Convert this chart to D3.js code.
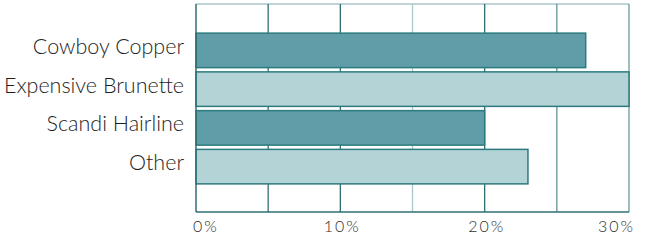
<!DOCTYPE html>
<html>
<head>
<meta charset="utf-8">
<script src="https://cdn.jsdelivr.net/npm/d3@7"></script>
<style>
  body { margin: 0; background: #fff; }
  text { font-family: Lato, "DejaVu Sans", sans-serif; font-weight: 300; }
</style>
</head>
<body>
<div id="chart"></div>
<script>
const categories = ["Cowboy Copper", "Expensive Brunette", "Scandi Hairline", "Other"];
const shares = [27, 30, 20, 23];
const gridTicks = [5, 10, 15, 20, 25];
const tickLabels = [0, 10, 20, 30];

var w = 650;
var h = 245;
var margin = { top: 4, right: 21, bottom: 33, left: 196 };

var svg = d3.select("#chart").append("svg")
  .attr("width", w)
  .attr("height", h);

var x = d3.scaleLinear()
  .domain([0, 30])
  .range([margin.left, w - margin.right]);

var y = d3.scaleBand()
  .domain(categories)
  .range([31, 186])
  .paddingInner(0.11)
  .paddingOuter(0.055);

var bottom = h - margin.bottom;

// frame
svg.append("line")
  .attr("x1", x(0)).attr("x2", x(30))
  .attr("y1", margin.top).attr("y2", margin.top)
  .attr("stroke", "#7fa9ad").attr("stroke-width", 1.2);
svg.append("line")
  .attr("x1", x(30)).attr("x2", x(30))
  .attr("y1", margin.top).attr("y2", bottom)
  .attr("stroke", "#5e9298").attr("stroke-width", 1.2);

// grid lines
svg.selectAll(".grid")
  .data(gridTicks)
  .enter().append("line")
  .attr("class", "grid")
  .attr("x1", d => x(d)).attr("x2", d => x(d))
  .attr("y1", margin.top).attr("y2", bottom)
  .attr("stroke", d => d == 15 ? "#a9c7cb" : (d == 25 ? "#5f9399" : "#2f6f73"))
  .attr("stroke-width", 1.3);

// bars
svg.selectAll(".bar")
  .data(categories)
  .enter().append("rect")
  .attr("class", "bar")
  .attr("x", x(0))
  .attr("y", d => y(d))
  .attr("width", (d, i) => x(shares[i]) - x(0))
  .attr("height", y.bandwidth())
  .attr("fill", (d, i) => i % 2 == 0 ? "#5f9ea8" : "#b3d3d7")
  .attr("stroke", "#2c7a7e")
  .attr("stroke-width", 1.5);

// axes lines
svg.append("line")
  .attr("x1", x(0)).attr("x2", x(0))
  .attr("y1", margin.top).attr("y2", bottom)
  .attr("stroke", "#2f6f73").attr("stroke-width", 1.5);
svg.append("line")
  .attr("x1", x(0)).attr("x2", x(30))
  .attr("y1", bottom).attr("y2", bottom)
  .attr("stroke", "#2f6f73").attr("stroke-width", 1.5);

// category labels
svg.selectAll(".cat")
  .data(categories)
  .enter().append("text")
  .attr("class", "cat")
  .attr("x", 184)
  .attr("y", d => y(d) + y.bandwidth() / 2 + 3.5)
  .attr("text-anchor", "end")
  .attr("font-size", 21.5)
  .attr("fill", "#1e1e1e")
  .text(d => d);

// x tick labels
svg.selectAll(".tick-label")
  .data(tickLabels)
  .enter().append("text")
  .attr("class", "tick-label")
  .attr("x", (d, i) => i == 0 ? x(d) - 3 : (i == tickLabels.length - 1 ? x(d) + 6 : x(d) + 2))
  .attr("y", 232)
  .attr("text-anchor", (d, i) => i == 0 ? "start" : (i == tickLabels.length - 1 ? "end" : "middle"))
  .attr("font-size", 16)
  .attr("letter-spacing", 2)
  .attr("fill", "#2e2e2e")
  .text(d => d + "%");
</script>
</body>
</html>
